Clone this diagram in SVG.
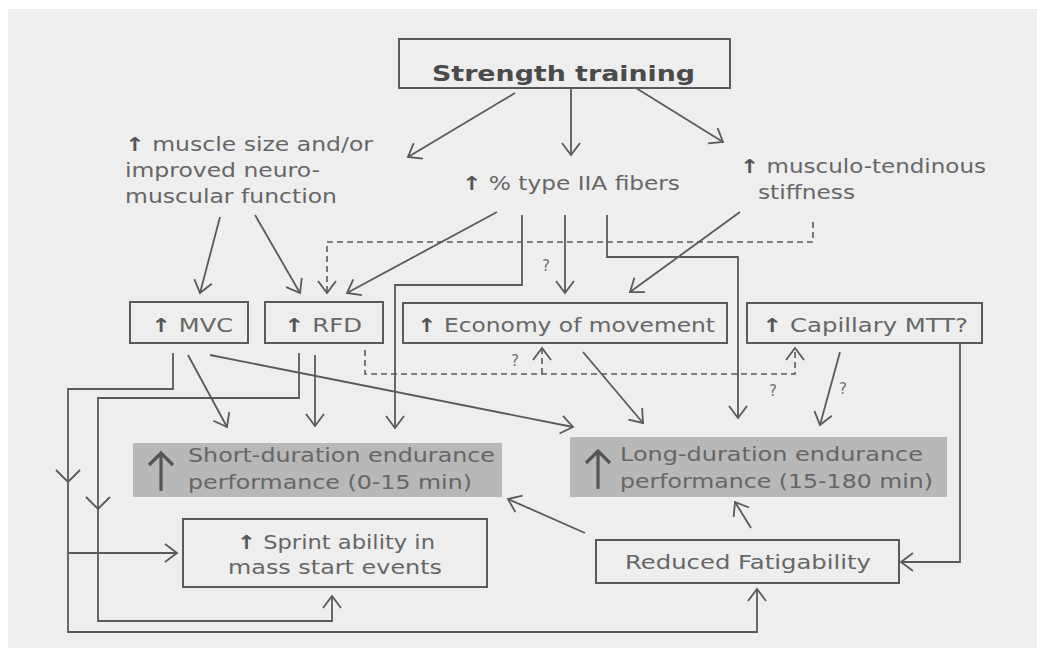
<svg xmlns="http://www.w3.org/2000/svg" width="1037" height="648" viewBox="0 0 1037 648">
<style>
.t{font-family:"DejaVu Sans","Liberation Sans",sans-serif;font-size:19px;fill:#666666}
.q{font-family:"DejaVu Sans","Liberation Sans",sans-serif;font-size:15px;fill:#707070}
.up{font-weight:bold;fill:#555555}
.b{fill:none;stroke:#5a5a5a;stroke-width:2}
.g{fill:#b8b8b8;stroke:none}
.c{fill:none;stroke:#5a5a5a;stroke-width:1.8}
.d{fill:none;stroke:#5a5a5a;stroke-width:1.6;stroke-dasharray:6 4}
.big{fill:none;stroke:#555;stroke-width:3.2}
</style>
<defs>
<marker id="ah" viewBox="-15 -11 17 22" refX="0" refY="0" markerWidth="17" markerHeight="22" markerUnits="userSpaceOnUse" orient="auto">
<path d="M-12,-9 L0,0 L-12,9" fill="none" stroke="#5a5a5a" stroke-width="1.8"/>
</marker>
</defs>
<rect x="0" y="0" width="1037" height="648" fill="#ffffff"/>
<rect x="8" y="9" width="1029" height="639" fill="#eeeeee"/>

<g id="strength-training">
<rect class="b" x="399" y="39" width="331" height="49"/>
<text x="432" y="81" textLength="263" lengthAdjust="spacingAndGlyphs" style="font-family:'DejaVu Sans','Liberation Sans',sans-serif;font-size:22px;font-weight:bold;fill:#4a4a4a">Strength training</text>
</g>

<g id="muscle-size">
<text class="t" x="125" y="151" textLength="248" lengthAdjust="spacingAndGlyphs"><tspan class="up">↑</tspan> muscle size and/or</text>
<text class="t" x="125" y="177" textLength="195" lengthAdjust="spacingAndGlyphs">improved neuro-</text>
<text class="t" x="125" y="203" textLength="212" lengthAdjust="spacingAndGlyphs">muscular function</text>
</g>

<g id="type-iia">
<text class="t" x="462" y="190" textLength="218" lengthAdjust="spacingAndGlyphs"><tspan class="up">↑</tspan> % type IIA fibers</text>
</g>

<g id="stiffness">
<text class="t" x="740" y="173" textLength="246" lengthAdjust="spacingAndGlyphs"><tspan class="up">↑</tspan> musculo-tendinous</text>
<text class="t" x="758" y="199" textLength="97" lengthAdjust="spacingAndGlyphs">stiffness</text>
</g>

<g id="mvc">
<rect class="b" x="130" y="302" width="118" height="41"/>
<text class="t" x="151" y="332" textLength="82" lengthAdjust="spacingAndGlyphs"><tspan class="up">↑</tspan> MVC</text>
</g>

<g id="rfd">
<rect class="b" x="265" y="302" width="118" height="41"/>
<text class="t" x="284" y="332" textLength="78" lengthAdjust="spacingAndGlyphs"><tspan class="up">↑</tspan> RFD</text>
</g>

<g id="economy">
<rect class="b" x="403" y="303" width="324" height="40"/>
<text class="t" x="417" y="332" textLength="298" lengthAdjust="spacingAndGlyphs"><tspan class="up">↑</tspan> Economy of movement</text>
</g>

<g id="capillary">
<rect class="b" x="747" y="303" width="235" height="40"/>
<text class="t" x="762" y="332" textLength="206" lengthAdjust="spacingAndGlyphs"><tspan class="up">↑</tspan> Capillary MTT?</text>
</g>

<g id="short-duration">
<rect class="g" x="133" y="443" width="369" height="54"/>
<path class="big" d="M161,491 V453 M149,465 L161,453 L173,465"/>
<text class="t" x="188" y="462" textLength="307" lengthAdjust="spacingAndGlyphs">Short-duration endurance</text>
<text class="t" x="188" y="489" textLength="284" lengthAdjust="spacingAndGlyphs">performance (0-15 min)</text>
</g>

<g id="long-duration">
<rect class="g" x="570" y="437" width="377" height="60"/>
<path class="big" d="M598,489 V451 M586,463 L598,451 L610,463"/>
<text class="t" x="620" y="461" textLength="303" lengthAdjust="spacingAndGlyphs">Long-duration endurance</text>
<text class="t" x="620" y="488" textLength="313" lengthAdjust="spacingAndGlyphs">performance (15-180 min)</text>
</g>

<g id="sprint">
<rect class="b" x="183" y="519" width="304" height="68"/>
<text class="t" x="237" y="549" textLength="198" lengthAdjust="spacingAndGlyphs"><tspan class="up">↑</tspan> Sprint ability in</text>
<text class="t" x="228" y="574" textLength="214" lengthAdjust="spacingAndGlyphs">mass start events</text>
</g>

<g id="reduced-fatigability">
<rect class="b" x="596" y="540" width="303" height="43"/>
<text class="t" x="625" y="569" textLength="246" lengthAdjust="spacingAndGlyphs">Reduced Fatigability</text>
</g>

<g id="connectors">
<path class="c" marker-end="url(#ah)" d="M515,93 L408,157"/>
<path class="c" marker-end="url(#ah)" d="M571,88 L571,155"/>
<path class="c" marker-end="url(#ah)" d="M636,88 L723,142"/>
<path class="c" marker-end="url(#ah)" d="M220,217 L200,293"/>
<path class="c" marker-end="url(#ah)" d="M255,215 L300,293"/>
<path class="c" marker-end="url(#ah)" d="M497,212 L347,293"/>
<path class="c" marker-end="url(#ah)" d="M522,215 V285 H395 V428"/>
<path class="c" marker-end="url(#ah)" d="M565,215 V293"/>
<path class="c" marker-end="url(#ah)" d="M607,215 V257 H738 V418"/>
<path class="c" marker-end="url(#ah)" d="M740,212 L630,292"/>
<path class="d" marker-end="url(#ah)" d="M813,222 V242 H327 V293"/>
<path class="c" marker-end="url(#ah)" d="M188,355 L227,427"/>
<path class="c" marker-end="url(#ah)" d="M210,355 L573,427"/>
<path class="c" marker-end="url(#ah)" d="M315,355 V426"/>
<path class="c" marker-end="url(#ah)" d="M173,353 V389 H68 V632 H757 V589"/>
<path class="c" d="M56,470 L68,482 L80,470"/>
<path class="c" marker-end="url(#ah)" d="M68,553 H177"/>
<path class="c" marker-end="url(#ah)" d="M299,353 V398 H98 V621 H332 V596"/>
<path class="c" d="M86,497 L98,509 L110,497"/>
<path class="d" marker-end="url(#ah)" d="M365,350 V374 H795 V348"/>
<path class="d" marker-end="url(#ah)" d="M542,374 V348"/>
<path class="c" marker-end="url(#ah)" d="M583,352 L643,423"/>
<path class="c" marker-end="url(#ah)" d="M840,352 L820,425"/>
<path class="c" marker-end="url(#ah)" d="M960,343 V562 H901"/>
<path class="c" marker-end="url(#ah)" d="M585,533 L508,499"/>
<path class="c" marker-end="url(#ah)" d="M751,528 L735,502"/>
<text class="q" x="542" y="271">?</text>
<text class="q" x="511" y="366">?</text>
<text class="q" x="769" y="396">?</text>
<text class="q" x="839" y="394">?</text>
</g>
</svg>
